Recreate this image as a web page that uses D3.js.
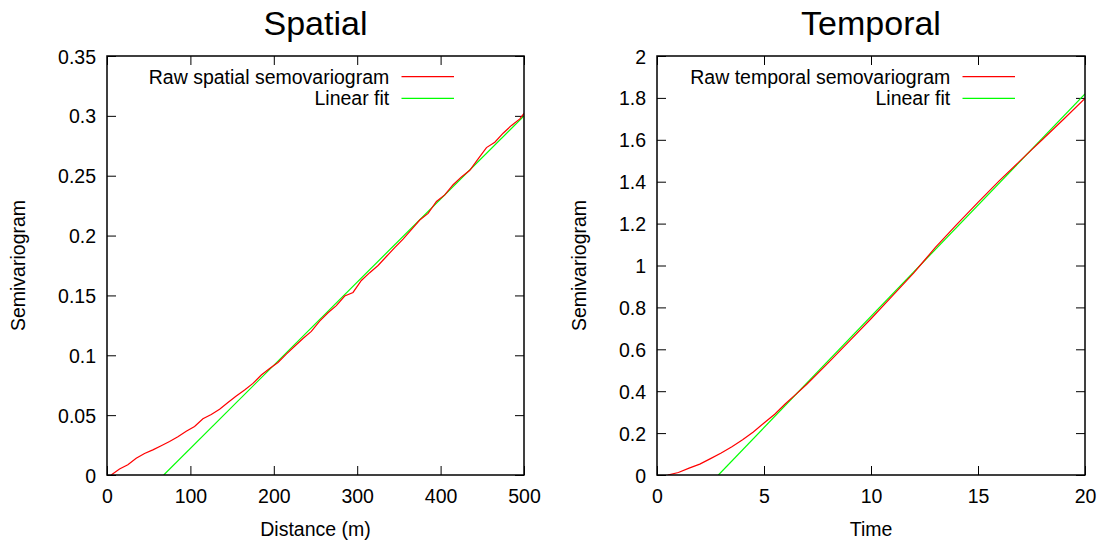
<!DOCTYPE html>
<html>
<head>
<meta charset="utf-8">
<script src="https://cdn.jsdelivr.net/npm/d3@7"></script>
<style>
  body { margin: 0; background: #fff; }
  svg { display: block; font-family: "Liberation Sans", Arial, sans-serif; }
</style>
</head>
<body>
<div id="chart"></div>
<script>
// spatial semivariogram
var spatialDist = [5, 15, 25, 35, 45, 55, 65, 75, 85, 95, 105, 115, 125, 135, 145, 155, 165, 175, 185, 195,
  205, 215, 225, 235, 245, 255, 265, 275, 285, 295, 305, 315, 325, 335, 345, 355, 365, 375, 385, 395,
  405, 415, 425, 435, 445, 455, 465, 475, 485, 495, 500];
var spatialRaw = [0, 0.005, 0.0085, 0.014, 0.018, 0.021, 0.0245, 0.028, 0.032, 0.0365, 0.0405, 0.047, 0.0505, 0.055, 0.0605, 0.066, 0.071, 0.0765, 0.0835, 0.089,
  0.094, 0.101, 0.1075, 0.114, 0.12, 0.1285, 0.1355, 0.1415, 0.1495, 0.1525, 0.1625, 0.169, 0.175, 0.1825, 0.19, 0.197, 0.205, 0.213, 0.2185, 0.2285,
  0.234, 0.2425, 0.249, 0.2545, 0.264, 0.2735, 0.278, 0.2855, 0.292, 0.2975, 0.302];
var spatialFit = [[68, 0], [500, 0.3]];
var spatialXTicks = [0, 100, 200, 300, 400, 500];
var spatialYTicks = [0, 0.05, 0.1, 0.15, 0.2, 0.25, 0.3, 0.35];

// temporal semivariogram
var temporalTime = [0.5, 1, 1.5, 2, 2.5, 3, 3.5, 4, 4.5, 5, 5.5, 6, 6.5, 7, 8, 9, 10, 11, 12, 12.5, 13, 14, 15, 16, 17, 17.5, 18, 19, 20];
var temporalRaw = [0, 0.012, 0.033, 0.052, 0.078, 0.105, 0.135, 0.168, 0.205, 0.248, 0.29, 0.34, 0.386, 0.433, 0.535, 0.64, 0.746, 0.855, 0.965, 1.025, 1.085, 1.195, 1.301, 1.405, 1.503, 1.552, 1.6, 1.698, 1.797];
var temporalFit = [[2.87, 0], [20, 1.819]];
var temporalXTicks = [0, 5, 10, 15, 20];
var temporalYTicks = [0, 0.2, 0.4, 0.6, 0.8, 1, 1.2, 1.4, 1.6, 1.8, 2];

var width = 1106, height = 544;
var top_y = 56, bottom_y = 475;
var fontSize = 19.5;

var panels = [
  {title: "Spatial", xLabel: "Distance (m)", rawName: "Raw spatial semovariogram",
   left: 107, right: 524, ylabX: 25,
   xDomain: [0, 500], yDomain: [0, 0.35], xTicks: spatialXTicks, yTicks: spatialYTicks,
   xs: spatialDist, ys: spatialRaw, fit: spatialFit},
  {title: "Temporal", xLabel: "Time", rawName: "Raw temporal semovariogram",
   left: 657, right: 1085, ylabX: 586,
   xDomain: [0, 20], yDomain: [0, 2], xTicks: temporalXTicks, yTicks: temporalYTicks,
   xs: temporalTime, ys: temporalRaw, fit: temporalFit}
];

var svg = d3.select("#chart").append("svg")
  .attr("width", width)
  .attr("height", height);

var fmt = function(d) { return String(+d.toFixed(3)); };

function styleAxis(g) {
  g.attr("font-size", fontSize).attr("font-family", null);
  g.select(".domain").remove();
  g.selectAll(".tick line").attr("stroke", "#000").attr("stroke-width", 1);
  g.selectAll(".tick text").attr("fill", "#000");
}

panels.forEach(function(p, i) {
  var x = d3.scaleLinear().domain(p.xDomain).range([p.left, p.right]);
  var y = d3.scaleLinear().domain(p.yDomain).range([bottom_y, top_y]);
  var cx = (p.left + p.right) / 2;

  // axes (ticks inside, mirrored on top/right)
  svg.append("g")
    .attr("transform", "translate(0," + bottom_y + ")")
    .call(d3.axisBottom(x).tickValues(p.xTicks).tickFormat(fmt).tickSizeInner(-9).tickSizeOuter(0).tickPadding(14.5))
    .call(styleAxis);
  svg.append("g")
    .attr("transform", "translate(0," + top_y + ")")
    .call(d3.axisTop(x).tickValues(p.xTicks).tickFormat("").tickSizeInner(-9).tickSizeOuter(0))
    .call(styleAxis);
  svg.append("g")
    .attr("transform", "translate(" + p.left + ",0)")
    .call(d3.axisLeft(y).tickValues(p.yTicks).tickFormat(fmt).tickSizeInner(-9).tickSizeOuter(0).tickPadding(11))
    .call(styleAxis)
    .selectAll(".tick text").attr("dy", "0.36em");
  svg.append("g")
    .attr("transform", "translate(" + p.right + ",0)")
    .call(d3.axisRight(y).tickValues(p.yTicks).tickFormat("").tickSizeInner(-9).tickSizeOuter(0))
    .call(styleAxis);

  var clipId = "clip" + i;
  svg.append("clipPath").attr("id", clipId)
    .append("rect")
    .attr("x", p.left).attr("y", top_y)
    .attr("width", p.right - p.left).attr("height", bottom_y - top_y);

  var plot = svg.append("g").attr("clip-path", "url(#" + clipId + ")");
  var line = d3.line().x(function(d) { return x(d[0]); }).y(function(d) { return y(d[1]); });

  plot.append("path")
    .datum(p.fit)
    .attr("d", line)
    .attr("fill", "none")
    .attr("stroke", "#00ff00")
    .attr("stroke-width", 1.2);

  plot.append("path")
    .datum(d3.zip(p.xs, p.ys))
    .attr("d", line)
    .attr("fill", "none")
    .attr("stroke", "#ff0000")
    .attr("stroke-width", 1.2);

  // frame
  svg.append("rect")
    .attr("x", p.left).attr("y", top_y)
    .attr("width", p.right - p.left).attr("height", bottom_y - top_y)
    .attr("fill", "none").attr("stroke", "#000").attr("stroke-width", 1.5);

  // legend
  var legend = [[p.rawName, "#ff0000"], ["Linear fit", "#00ff00"]];
  legend.forEach(function(l, k) {
    var ly = 76.7 + k * 21.7;
    svg.append("text")
      .attr("x", p.right - 134.7).attr("y", ly + 6.8)
      .attr("text-anchor", "end")
      .attr("font-size", fontSize)
      .text(l[0]);
    svg.append("line")
      .attr("x1", p.right - 122.5).attr("x2", p.right - 70)
      .attr("y1", ly).attr("y2", ly)
      .attr("stroke", l[1]).attr("stroke-width", 1.2);
  });

  // titles and labels
  svg.append("text")
    .attr("x", cx).attr("y", 35)
    .attr("text-anchor", "middle")
    .attr("font-size", 34)
    .text(p.title);
  svg.append("text")
    .attr("x", cx).attr("y", 536)
    .attr("text-anchor", "middle")
    .attr("font-size", fontSize)
    .text(p.xLabel);
  svg.append("text")
    .attr("transform", "translate(" + p.ylabX + "," + ((top_y + bottom_y) / 2) + ") rotate(-90)")
    .attr("text-anchor", "middle")
    .attr("font-size", fontSize)
    .text("Semivariogram");
});
</script>
</body>
</html>
